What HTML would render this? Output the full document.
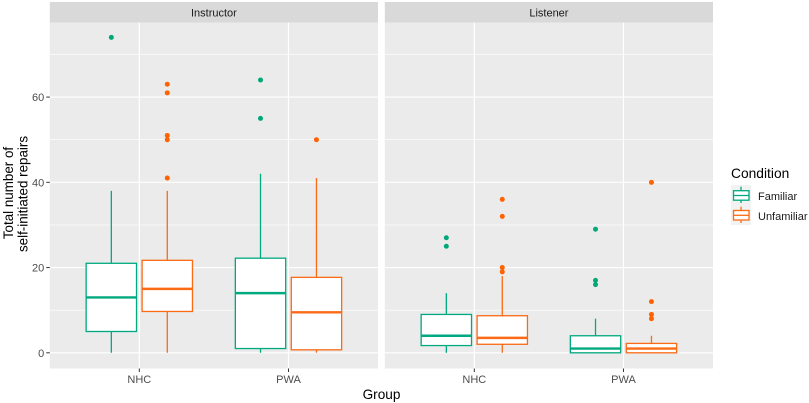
<!DOCTYPE html>
<html>
<head>
<meta charset="utf-8">
<style>
html,body{margin:0;padding:0;background:#fff;width:809px;height:403px;overflow:hidden}
svg{display:block;font-family:"Liberation Sans",sans-serif}
</style>
</head>
<body>
<svg id="chart" width="809" height="403" viewBox="0 0 809 403" xmlns="http://www.w3.org/2000/svg">
<rect x="0" y="0" width="809" height="403" fill="#fff"></rect>
<g id="plot"></g>
<text x="0" y="0" transform="translate(13,193) rotate(-90)" text-anchor="middle" font-size="13.4" fill="#000">Total number of</text>
<text x="0" y="0" transform="translate(27.5,194) rotate(-90)" text-anchor="middle" font-size="13.4" fill="#000">self-initiated repairs</text>
<text x="381.5" y="399" text-anchor="middle" font-size="13.6" fill="#000">Group</text>
<text x="731" y="178" font-size="13.8" fill="#000">Condition</text>
<g>
<rect x="731" y="185" width="20" height="20" fill="#f2f2f2"></rect>
<line x1="741" x2="741" y1="186.7" y2="203" stroke="#00a97f" stroke-width="1.3"></line>
<rect x="733.5" y="190.7" width="15.5" height="9.5" fill="#fff" stroke="#00a97f" stroke-width="1.3"></rect>
<line x1="733.5" x2="749" y1="195.5" y2="195.5" stroke="#00a97f" stroke-width="1.3"></line>
<text x="758" y="200" font-size="11" fill="#1a1a1a">Familiar</text>
</g>
<g>
<rect x="731" y="205" width="20" height="20" fill="#f2f2f2"></rect>
<line x1="741" x2="741" y1="206.7" y2="223" stroke="#fb6a14" stroke-width="1.3"></line>
<rect x="733.5" y="210.5" width="15.5" height="9.5" fill="#fff" stroke="#fb6a14" stroke-width="1.3"></rect>
<line x1="733.5" x2="749" y1="215.3" y2="215.3" stroke="#fb6a14" stroke-width="1.3"></line>
<text x="758" y="220" font-size="11" fill="#1a1a1a">Unfamiliar</text>
</g>
</svg>
<script>
const panels = ['Instructor', 'Listener'];
const groups = ['NHC', 'PWA'];
const conditions = ['Familiar', 'Unfamiliar'];
const yTicks = [0, 20, 40, 60];
const yMinor = [10, 30, 50, 70];

// Each array runs: Instructor NHC, Instructor PWA, Listener NHC, Listener PWA
const familiarLow = [0, 0, 0, 0];
const familiarQ1 = [5, 1, 1.7, 0];
const familiarMedian = [13, 14, 4, 1];
const familiarQ3 = [21, 22.2, 9, 4];
const familiarHigh = [38, 42, 14, 8];
const familiarOutliers = [[74], [55, 64], [25, 27], [16, 17, 29]];

const unfamiliarLow = [0, 0, 0, 0];
const unfamiliarQ1 = [9.7, 0.7, 2, 0];
const unfamiliarMedian = [15, 9.5, 3.5, 1];
const unfamiliarQ3 = [21.7, 17.7, 8.7, 2.2];
const unfamiliarHigh = [38, 41, 18, 4];
const unfamiliarOutliers = [[41, 50, 51, 61, 63], [50], [19, 20, 32, 36], [8, 9, 12, 40]];

const NS = 'http://www.w3.org/2000/svg';
const plot = document.getElementById('plot');
const GREEN = '#00a97f';
const ORANGE = '#fb6a14';
const DOT_GREEN = '#00a878';
const DOT_ORANGE = '#ff6200';
const PANEL_W = 328.2;
const PANEL_TOP = 22.5;
const PANEL_BOTTOM = 368.5;
const UNIT = PANEL_W / 2.2;
const DODGE = 0.1875;
const BOX_W = 0.3375;

function panelLeft(p) { return 49.8 + p * 335; }
function xScale(p, position) { return panelLeft(p) + (position + 0.6) * UNIT; }
function yScale(v) { return 352.8 - v * 4.262; }

function make(tag, attrs, parent) {
  const el = document.createElementNS(NS, tag);
  for (const k in attrs) el.setAttribute(k, attrs[k]);
  parent.appendChild(el);
  return el;
}

function drawBox(layer, p, g, c, low, q1, med, q3, high, outs, color, dotColor) {
  const cx = xScale(p, g + (c === 0 ? -DODGE : DODGE));
  const halfW = BOX_W * UNIT / 2;
  const slug = panels[p].toLowerCase() + '-' + groups[g].toLowerCase() + '-' + conditions[c].toLowerCase();

  const whisker = make('line', {x1: cx, x2: cx, y1: yScale(low), y2: yScale(high), stroke: color, 'stroke-width': 1.3}, layer);
  
  

  const box = make('rect', {x: cx - halfW, y: yScale(q3), width: halfW * 2, height: yScale(q1) - yScale(q3), fill: '#fff', stroke: color, 'stroke-width': 1.3}, layer);
  
  

  const median = make('line', {x1: cx - halfW, x2: cx + halfW, y1: yScale(med), y2: yScale(med), stroke: color, 'stroke-width': 2.4}, layer);
  
  

  outs.forEach(function (v) {
    const dot = make('circle', {cx: cx, cy: yScale(v), r: 2.5, fill: dotColor}, layer);
    
    
  });
}

panels.forEach(function (name, p) {
  const left = panelLeft(p);
  const pSlug = name.toLowerCase();

  const strip = make('rect', {x: left, y: 2, width: PANEL_W, height: PANEL_TOP - 2, fill: '#d9d9d9'}, plot);
  
  

  const stripText = make('text', {x: left + PANEL_W / 2, y: 16.5, 'text-anchor': 'middle', 'font-size': 11, fill: '#1a1a1a'}, plot);
  stripText.textContent = name;
  
  

  const bg = make('rect', {x: left, y: PANEL_TOP, width: PANEL_W, height: PANEL_BOTTOM - PANEL_TOP, fill: '#ebebeb'}, plot);
  
  

  yMinor.forEach(function (v) {
    const l = make('line', {x1: left, x2: left + PANEL_W, y1: yScale(v), y2: yScale(v), stroke: '#fff', 'stroke-width': 0.6}, plot);
    
    
  });

  yTicks.forEach(function (v) {
    const l = make('line', {x1: left, x2: left + PANEL_W, y1: yScale(v), y2: yScale(v), stroke: '#fff', 'stroke-width': 1.2}, plot);
    
    
    if (p === 0) {
      const t = make('line', {x1: left - 3.5, x2: left, y1: yScale(v), y2: yScale(v), stroke: '#333', 'stroke-width': 1}, plot);
      
      
      const lab = make('text', {x: left - 5.5, y: yScale(v) + 4, 'text-anchor': 'end', 'font-size': 11, fill: '#4d4d4d'}, plot);
      lab.textContent = v;
      
      
    }
  });

  groups.forEach(function (g, gi) {
    const x = xScale(p, gi);
    const grid = make('line', {x1: x, x2: x, y1: PANEL_TOP, y2: PANEL_BOTTOM, stroke: '#fff', 'stroke-width': 1.2}, plot);
    
    
    const t = make('line', {x1: x, x2: x, y1: PANEL_BOTTOM, y2: PANEL_BOTTOM + 3.5, stroke: '#333', 'stroke-width': 1}, plot);
    
    
    const lab = make('text', {x: x, y: 383, 'text-anchor': 'middle', 'font-size': 11, fill: '#4d4d4d'}, plot);
    lab.textContent = g;
    
    
  });

  groups.forEach(function (g, gi) {
    const i = p * 2 + gi;
    drawBox(plot, p, gi, 0, familiarLow[i], familiarQ1[i], familiarMedian[i], familiarQ3[i], familiarHigh[i], familiarOutliers[i], GREEN, DOT_GREEN);
    drawBox(plot, p, gi, 1, unfamiliarLow[i], unfamiliarQ1[i], unfamiliarMedian[i], unfamiliarQ3[i], unfamiliarHigh[i], unfamiliarOutliers[i], ORANGE, DOT_ORANGE);
  });
});
</script>
</body>
</html>
